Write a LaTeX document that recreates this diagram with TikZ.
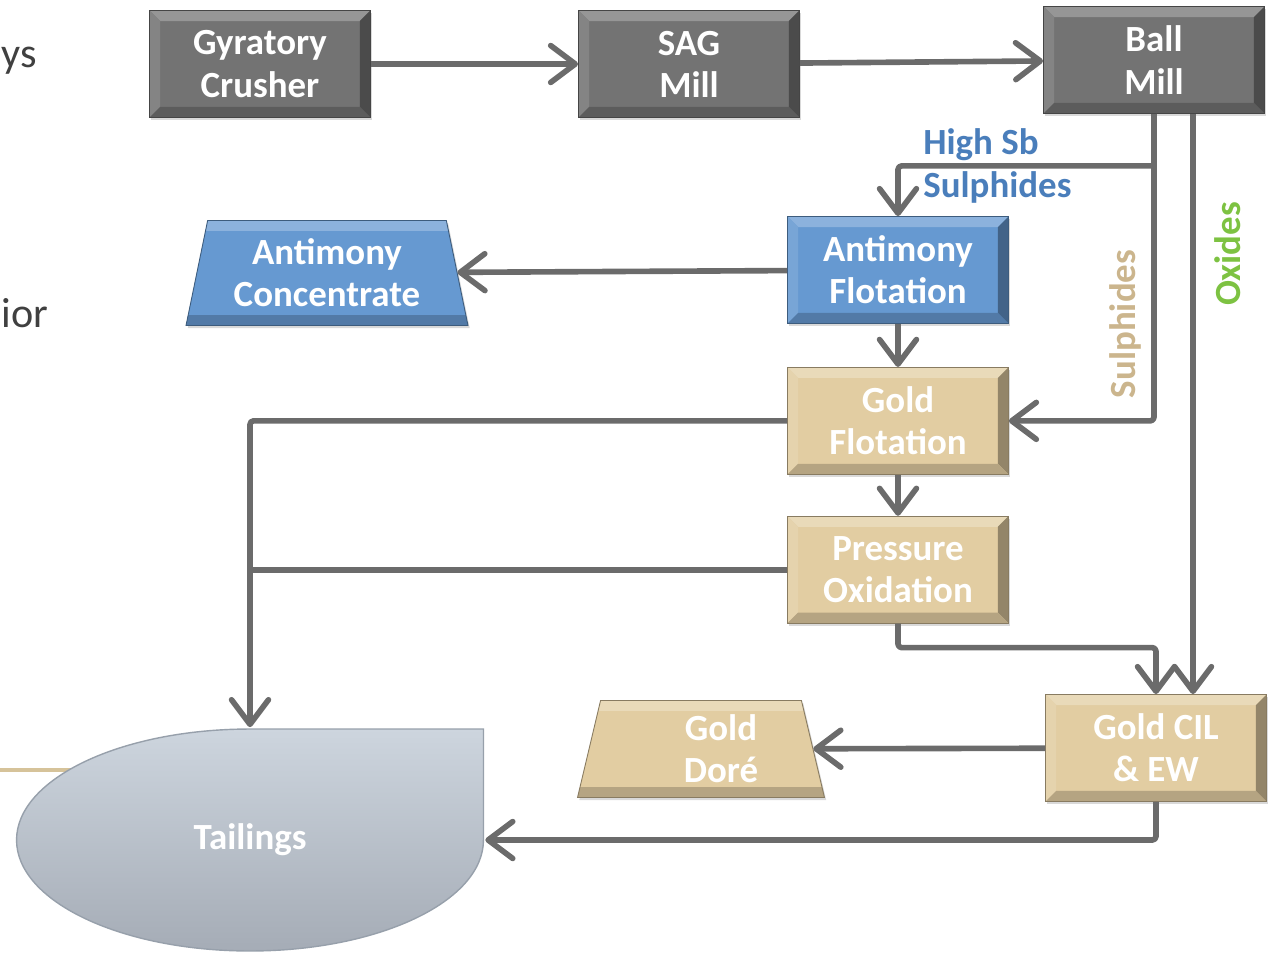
\documentclass[tikz,border=0pt]{standalone}
\usepackage{fontspec}
\setmainfont{Carlito}
\usepackage{tikz}
\usetikzlibrary{arrows.meta,positioning,calc,shapes.geometric,shadows}
\definecolor{flow}{HTML}{6B6B6B}
\definecolor{mill}{HTML}{737373}
\definecolor{sbfill}{HTML}{6699D1}
\definecolor{sbtext}{HTML}{4A7EBB}
\definecolor{aufill}{HTML}{E2CDA2}
\definecolor{sultext}{HTML}{CBB58D}
\definecolor{oxtext}{HTML}{7DC242}
\definecolor{tailtop}{HTML}{CDD5DE}
\definecolor{tailbot}{HTML}{A5ACB6}
\definecolor{tailedge}{HTML}{97A0AB}
\definecolor{slide}{HTML}{404040}
\definecolor{rulecol}{HTML}{D6C39A}
\newcommand\procfont{\bfseries\fontsize{21}{24}\selectfont}
\tikzset{
  bev/.style={path picture={
    \path (path picture bounding box.south west) coordinate (bl)
          (path picture bounding box.north east) coordinate (tr);
    \fill[#1!75!white] (bl|-tr) -- (tr) -- ++(-6pt,-6pt) -- ($(bl|-tr)+(6pt,-6pt)$) -- cycle;
    \fill[#1!88!white] (bl) -- (bl|-tr) -- ++(6pt,-6pt) -- ($(bl)+(6pt,6pt)$) -- cycle;
    \fill[#1!65!black] (bl-|tr) -- (tr) -- ++(-6pt,-6pt) -- ($(bl-|tr)+(-6pt,6pt)$) -- cycle;
    \fill[#1!80!black] (bl) -- (bl-|tr) -- ++(-6pt,6pt) -- ($(bl)+(6pt,6pt)$) -- cycle;
  }},
  tbev/.style={path picture={
    \path (path picture bounding box.south west) coordinate (bl)
          (path picture bounding box.north east) coordinate (tr);
    \fill[#1!75!white] (bl|-tr) rectangle ($(tr)+(0,-6pt)$);
    \fill[#1!80!black] (bl) rectangle ($(bl-|tr)+(0,6pt)$);
  }},
  proc/.style={rectangle,draw=#1!60!black,line width=0.5pt,fill=#1,bev=#1,text=white,font=\procfont,align=center,
    minimum width=4.42cm,minimum height=2.14cm,inner sep=2pt,drop shadow={opacity=0.3,shadow xshift=1pt,shadow yshift=-1.5pt}},
  prod/.style={trapezium,trapezium stretches body,draw=#1!60!black,line width=0.5pt,fill=#1,tbev=#1,text=white,font=\procfont,align=center,
    inner sep=2pt,drop shadow={opacity=0.3,shadow xshift=1pt,shadow yshift=-1.5pt}},
  tailpond/.style={minimum width=9.4cm,minimum height=4.5cm,inner sep=0pt,text=white,font=\procfont,
    path picture={
      \path (path picture bounding box.center) coordinate (tc);
      \shade[top color=tailtop,bottom color=tailbot,draw=tailedge,line width=0.8pt]
        ($(tc)+(0,2.22cm)$) arc[start angle=90,end angle=360,x radius=4.67cm,y radius=2.22cm]
        -- ++(0,2.22cm) -- cycle;
    }},
  lbl/.style={font=\procfont,inner sep=0pt},
  frag/.style={font=\fontsize{24}{28}\selectfont,text=slide,inner sep=0pt},
  fl/.style={-{Straight Barb[length=14pt,width=21pt,round]},draw=flow,line width=3.2pt,line join=round,rounded corners=2pt},
}
\begin{document}
\begin{tikzpicture}[x=0.02cm,y=-0.02cm,node distance=0.86cm]
\useasboundingbox (0,0) rectangle (1272,954);
% slide text cut off at the left
\node[frag,anchor=base west] (frag1) at (1,67) {ys};
\node[frag,anchor=base west] (frag2) at (1,327) {ior};
\coordinate (rule0) at (0,770); \coordinate (rule1) at (77,770);
\draw[line width=2.8pt,draw=rulecol] (rule0) -- (rule1);
% comminution
\node[proc=mill] (crusher) at (260,64) {Gyratory\\Crusher};
\node[proc=mill] (sag) at (689,64) {SAG\\Mill};
\node[proc=mill] (ball) at (1154,60) {Ball\\Mill};
% flotation and leach
\node[proc=sbfill] (sbflot) at (898,270) {Antimony\\Flotation};
\node[proc=aufill,below=of sbflot] (auflot) {Gold\\Flotation};
\node[proc=aufill,below=0.82cm of auflot] (pox) {Pressure\\Oxidation};
\node[proc=aufill] (cil) at (1156,748) {Gold CIL\\\& EW};
% products
\node[prod=sbfill,minimum width=5.64cm,minimum height=2.1cm,trapezium angle=74] (sbconc) at (327,273) {Antimony\\Concentrate};
\node[prod=aufill,minimum width=4.94cm,minimum height=1.94cm,trapezium angle=73] (dore) at (701,749) {\hspace*{0.8cm}Gold\\\hspace*{0.8cm}Doré};
\node[tailpond] (tail) at (250,840) {Tailings};
% flows
\draw[fl] (crusher) -- (sag);
\draw[fl] (sag) -- (ball);
\coordinate (sulph) at (ball.south);
\coordinate (sbtap) at ($(ball.south)+(0,52)$);
\coordinate (oxtap) at ($(ball.south)+(39,0)$);
\draw[fl] (sulph) |- (auflot.east);
\draw[fl] (sbtap) -| (sbflot.north);
\draw[fl] (oxtap) -- (oxtap |- cil.north);
\draw[fl] (sbflot) -- (sbconc);
\draw[fl] (sbflot) -- (auflot);
\draw[fl] (auflot) -- (pox);
\draw[fl] (auflot.west) -| (tail.north);
\draw[fl,-] (pox.west) -- (pox.west -| tail.north);
\draw[fl] (pox.south) -- ++(0,24) -| (cil.north);
\draw[fl] (cil) -- (dore);
\draw[fl] (cil.south) |- (tail.east);
% stream labels
\node[lbl,text=sbtext,align=left,anchor=west] (sblbl) at (923,166) {High Sb\\Sulphides};
\node[lbl,text=sultext,rotate=90] (sullbl) at (1125,324) {Sulphides};
\node[lbl,text=oxtext,rotate=90] (oxlbl) at (1228,254) {Oxides};
\end{tikzpicture}
\end{document}
